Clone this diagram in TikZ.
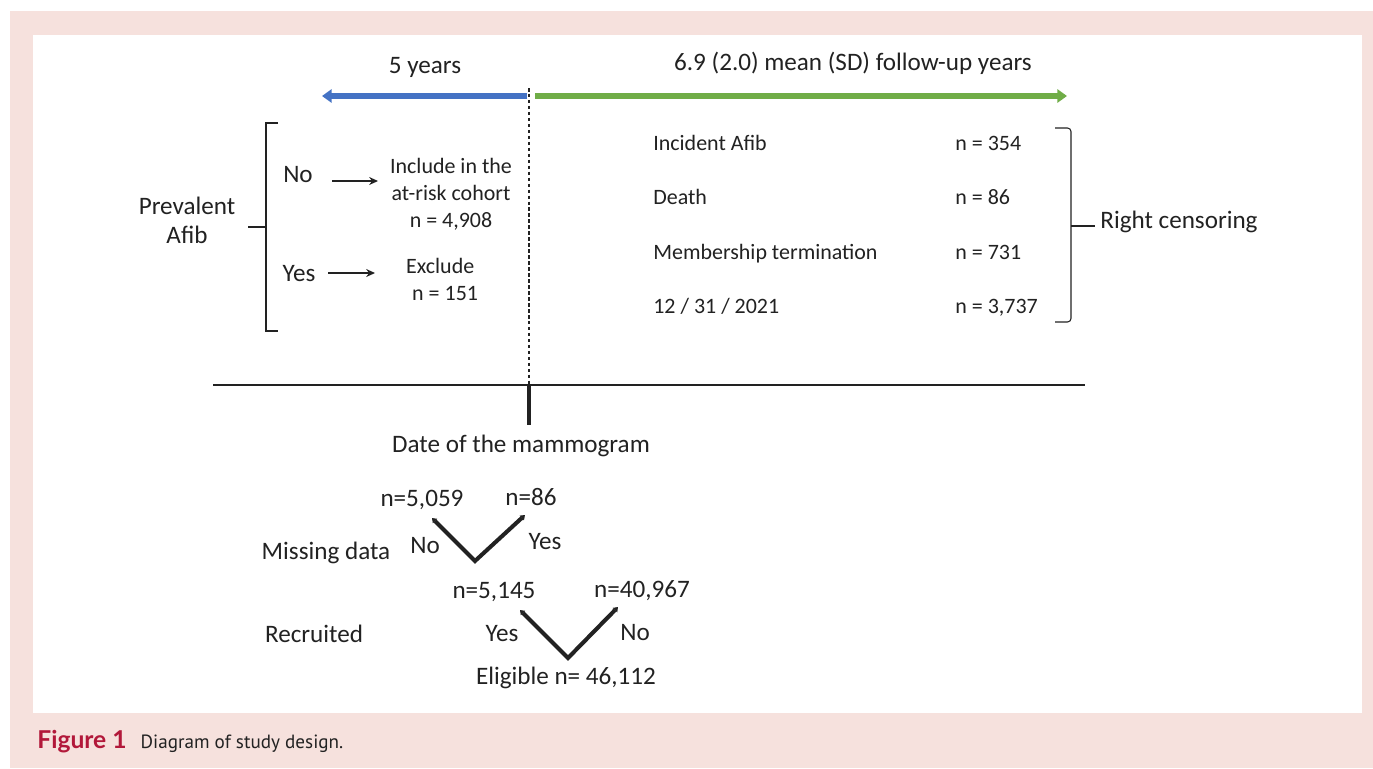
\documentclass[tikz,border=0pt]{standalone}
\usepackage{fontspec}
\setmainfont{Carlito}
\newfontfamily\capfont{Lato}
\newfontfamily\captxtfont{PT Sans}
\usetikzlibrary{arrows.meta,positioning,calc}
\definecolor{pagepink}{RGB}{246,225,221}
\definecolor{arrblue}{RGB}{68,114,196}
\definecolor{arrgreen}{RGB}{112,173,71}
\definecolor{figred}{RGB}{178,24,58}
\definecolor{ink}{RGB}{34,34,34}
\tikzset{
  txt/.style={text=ink, font=\fontsize{14.3}{16.5}\selectfont, inner sep=0pt, align=center, anchor=base},
  sm/.style={txt, font=\fontsize{12.5}{15.3}\selectfont},
  lbl/.style={sm, anchor=base west},
  line/.style={-{Stealth[length=5pt,width=4.5pt]}, line width=0.8pt, draw=ink},
  brace/.style={line width=0.6pt, draw=ink},
  span/.style={line width=3.4pt, -{Triangle[length=5.5pt,width=7.5pt]}},
  vee/.style={line width=2.3pt, draw=ink, {Triangle[length=2.5pt,width=3.5pt]}-{Triangle[length=2.5pt,width=3.5pt]}}
}

\begin{document}
\begin{tikzpicture}[x=0.02cm, y=-0.02cm]
        \useasboundingbox[fill=white] (0,0) rectangle (1373,768);
        \fill[pagepink] (10,11) rectangle (1373,768);
        \fill[white] (33,35) rectangle (1362,713);

        % time spans
        \coordinate (t0) at (529,96);
        \coordinate (tl) at (322,96);
        \coordinate (tr) at (1067,96);
        \draw[span, arrblue] ($(t0)+(-2,0)$) -- (tl);
        \draw[span, arrgreen] ($(t0)+(6,0)$) -- (tr);
        \node[txt] (back) at (425,73) {5 years};
        \node[txt] (fwd) at (853,70) {6.9 (2.0) mean (SD) follow-up years};

        % time line
        \coordinate (h0) at (213,385);
        \coordinate (h1) at (1085,385);
        \coordinate (m0) at (529,385);
        \coordinate (m1) at (529,425);
        \draw[line width=0.85pt, ink] (h0) -- (h1);
        \draw[line width=0.6pt, ink, dash pattern=on 2pt off 1.4pt] (529,88) -- (m0);
        \draw[line width=2.4pt, ink] (m0) -- (m1);
        \node[txt] (mam) at (521,452) {Date of the mammogram};

        % prevalent afib
        \node[txt] (prev) at (187,243) {Prevalent\\Afib};
        \draw[brace] (278,123) -- (266,123) -- (266,331) -- (278,331);
        \draw[brace] (266,227) -- (248,227);
        \node[txt] (no) at (298,182) {No};
        \node[txt] (yes) at (299,281) {Yes};
        \node[sm] (inc) at (451,227) {Include in the\\at-risk cohort\\n = 4,908};
        \node[lbl] (exc) at (402,300) {Exclude\\\hspace*{0.45em}n = 151};
        \draw[line] (332,181) -- (378,181);
        \draw[line] (328,273) -- (375,273);

        % outcomes
        \node[lbl] (o1) at (653,150) {Incident Afib};
        \node[lbl] (o2) at (653,204) {Death};
        \node[lbl] (o3) at (653,259) {Membership termination};
        \node[lbl] (o4) at (653,313) {12 / 31 / 2021};
        \node[lbl] (n1) at (955,150) {n = 354};
        \node[lbl] (n2) at (955,204) {n = 86};
        \node[lbl] (n3) at (955,259) {n = 731};
        \node[lbl] (n4) at (955,313) {n = 3,737};
        \draw[brace, rounded corners=2pt] (1055,128) -- (1071,128) -- (1071,322) -- (1055,322);
        \draw[brace] (1071,226) -- (1095,226);
        \node[txt, anchor=base west] (rc) at (1100,228) {Right censoring};

        % missing data
        \node[txt] (md) at (326,559) {Missing data};
        \node[txt] (a1) at (422,506) {n=5,059};
        \node[txt] (b1) at (531,505) {n=86};
        \node[txt] (no1) at (425,553) {No};
        \node[txt] (yes1) at (545,549) {Yes};
        \coordinate (p1) at (432,518);
        \coordinate (v1) at (475,561);
        \coordinate (q1) at (525,515);
        \draw[vee] (p1) -- (v1) -- (q1);

        % recruited
        \node[txt] (rec) at (314,642) {Recruited};
        \node[txt] (a2) at (494,598) {n=5,145};
        \node[txt] (b2) at (642,597) {n=40,967};
        \node[txt] (yes2) at (502,641) {Yes};
        \node[txt] (no2) at (635,640) {No};
        \coordinate (p2) at (520,610);
        \coordinate (v2) at (568,658);
        \coordinate (q2) at (618,607);
        \draw[vee] (p2) -- (v2) -- (q2);
        \node[txt] (elig) at (566,684) {Eligible n= 46,112};

        % caption
        \node[anchor=base west, inner sep=0pt] (cap) at (37,748)
          {\textcolor{figred}{\capfont\fontsize{14}{16}\selectfont\bfseries Figure 1}\hspace{0.8em}\textcolor{ink}{\captxtfont\fontsize{10.9}{13}\selectfont Diagram of study design.}};
      \end{tikzpicture}
\end{document}
